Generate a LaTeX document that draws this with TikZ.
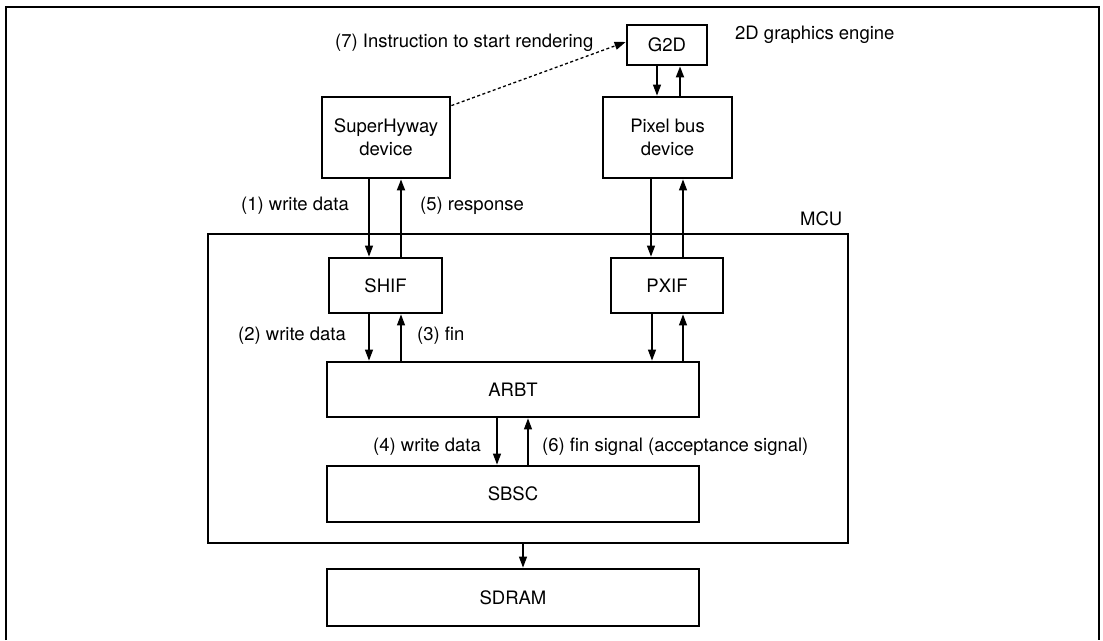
\documentclass[tikz,border=0pt]{standalone}
\usepackage{fontspec}
\setmainfont{TeX Gyre Heros}
\usetikzlibrary{arrows.meta}
\begin{document}
\begin{tikzpicture}[x=1pt,y=-1pt,
  font=\fontsize{18.5}{23}\selectfont,
  box/.style={draw,line width=2.8pt,inner sep=0pt,align=center},
  conn/.style={line width=1.2pt,-{Triangle[length=11pt,width=8pt]}},
  connb/.style={line width=1.8pt,-{Triangle[length=11pt,width=8pt]}},
  lbl/.style={anchor=west,inner sep=0pt}]
\useasboundingbox (0,0) rectangle (1103,640);
\draw[line width=2.8pt] (6,640) -- (6,7) -- (1099,7) -- (1099,640);
% boxes
\node[box,minimum width=80pt,minimum height=40pt] (g2d) at (667,45) {G2D};
\node[box,minimum width=128pt,minimum height=81pt] (shd) at (386,137.5) {SuperHyway\\device};
\node[box,minimum width=129pt,minimum height=81pt] (pbd) at (667.5,137.5) {Pixel bus\\device};
\node[box,minimum width=640pt,minimum height=309pt] (mcu) at (528,388.5) {};
\node[box,minimum width=113pt,minimum height=55pt] (shif) at (385.5,285.5) {SHIF};
\node[box,minimum width=112pt,minimum height=55pt] (pxif) at (667,285.5) {PXIF};
\node[box,minimum width=372pt,minimum height=55pt] (arbt) at (513,389.5) {ARBT};
\node[box,minimum width=372pt,minimum height=56pt] (sbsc) at (513,494) {SBSC};
\node[box,minimum width=372pt,minimum height=57pt] (sdram) at (513,597.5) {SDRAM};
% labels
\node[lbl] (l7) at (335,43) {(7) Instruction to start rendering};
\node[lbl] (leng) at (735,35) {2D graphics engine};
\node[lbl] (l1) at (241,206) {(1) write data};
\node[lbl] (l5) at (420,206) {(5) response};
\node[lbl] (lmcu) at (800,219) {MCU};
\node[lbl] (l2) at (238,336) {(2) write data};
\node[lbl] (l3) at (417,336) {(3) fin};
\node[lbl] (l4) at (373,447) {(4) write data};
\node[lbl] (l6) at (542,447) {(6) fin signal (acceptance signal)};
% connectors
\draw[line width=1.3pt,dash pattern=on 3pt off 2.5pt,-{Triangle[length=11pt,width=8pt]}]
  ([yshift=-10pt]shd.north east) -- ([yshift=3pt]g2d.west);
\draw[conn] ([xshift=-10.5pt]pbd.north |- g2d.south) -- ([xshift=-10.5pt]pbd.north);
\draw[connb] ([xshift=12.5pt]pbd.north) -- ([xshift=12.5pt]pbd.north |- g2d.south);
\draw[conn] ([xshift=-16.5pt]shif.north |- shd.south) -- ([xshift=-16.5pt]shif.north);
\draw[connb] ([xshift=15.5pt]shif.north) -- ([xshift=15.5pt]shif.north |- shd.south);
\draw[conn] ([xshift=-16pt]pxif.north |- pbd.south) -- ([xshift=-16pt]pxif.north);
\draw[conn] ([xshift=16pt]pxif.north) -- ([xshift=16pt]pxif.north |- pbd.south);
\draw[conn] ([xshift=-16.5pt]shif.south) -- ([xshift=-16.5pt]shif.south |- arbt.north);
\draw[conn] ([xshift=15.5pt]shif.south |- arbt.north) -- ([xshift=15.5pt]shif.south);
\draw[conn] ([xshift=-15pt]pxif.south) -- ([xshift=-15pt]pxif.south |- arbt.north);
\draw[conn] ([xshift=16pt]pxif.south |- arbt.north) -- ([xshift=16pt]pxif.south);
\draw[conn] ([xshift=-16pt]arbt.south) -- ([xshift=-16pt]arbt.south |- sbsc.north);
\draw[conn] ([xshift=15pt]arbt.south |- sbsc.north) -- ([xshift=15pt]arbt.south);
\draw[conn] ([xshift=10pt]sdram.north |- mcu.south) -- ([xshift=10pt]sdram.north);
\end{tikzpicture}
\end{document}
